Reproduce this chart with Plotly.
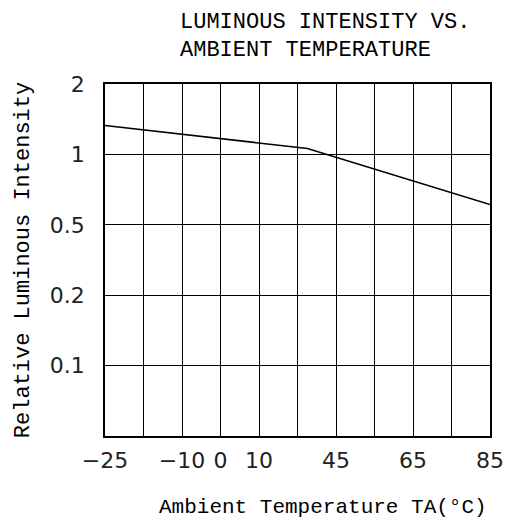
import numpy as np
import plotly.graph_objects as go

# Axis tick labels (the reference grid is not linear in value)
x_tick_temps = [-25, -10, 0, 10, 45, 65, 85]
x_tick_pos = [0, 2, 3, 4, 6, 8, 10]
y_tick_vals = [0.1, 0.2, 0.5, 1, 2]
y_tick_pos = [1, 2, 3, 4, 5]

# Curve
temps = [-25, 32, 85]
intensity = [1.33, 1.06, 0.61]

xp = np.interp(temps, x_tick_temps, x_tick_pos)
yp = np.interp(np.log(intensity), np.log(y_tick_vals), y_tick_pos)

x_text = {p: ("\u2212" + str(-t) if t < 0 else str(t)) for t, p in zip(x_tick_temps, x_tick_pos)}
y_text = {p: ("%g" % v) for v, p in zip(y_tick_vals, y_tick_pos)}

fig = go.Figure()
fig.add_trace(go.Scatter(x=xp, y=yp, mode="lines",
                         line=dict(color="black", width=1.5),
                         showlegend=False, hoverinfo="skip"))

W, H = 503, 513
tick_font = dict(family="DejaVu Sans", size=22, color="#222")
mono = "Liberation Mono"

fig.update_layout(
    width=W, height=H,
    margin=dict(l=97, r=21, t=76, b=85),
    paper_bgcolor="white", plot_bgcolor="white",
    title=dict(text="LUMINOUS INTENSITY VS.<br>AMBIENT TEMPERATURE",
               x=172/W, xanchor="left", xref="container",
               y=1 - 19.5/H, yanchor="middle", yref="container",
               font=dict(family=mono, size=22, color="black")),
    xaxis=dict(range=[0, 10], tickmode="array",
               tickvals=list(range(11)),
               ticktext=[x_text.get(i, "") for i in range(11)],
               showgrid=True, gridcolor="black", gridwidth=1,
               showline=True, linecolor="black", linewidth=1.5, mirror=True,
               zeroline=False, ticks="", ticklen=0, automargin=False,
               tickfont=tick_font, ticklabelstandoff=4),
    yaxis=dict(range=[0, 5], tickmode="array",
               tickvals=list(range(6)),
               ticktext=[y_text.get(i, "") for i in range(6)],
               showgrid=True, gridcolor="black", gridwidth=1,
               showline=True, linecolor="black", linewidth=1.5, mirror=True,
               zeroline=False, ticks="", ticklen=0, automargin=False,
               tickfont=tick_font, ticklabelstandoff=14,
               title=dict(text="Relative Luminous Intensity",
                          font=dict(family=mono, size=22, color="black"),
                          standoff=14)),
    annotations=[dict(text="Ambient Temperature TA(°C)",
                      xref="paper", yref="paper", x=0.565, y=0,
                      xanchor="center", yanchor="middle", yshift=-71,
                      showarrow=False,
                      font=dict(family=mono, size=21, color="black"))],
)

fig.write_html("out.html")
